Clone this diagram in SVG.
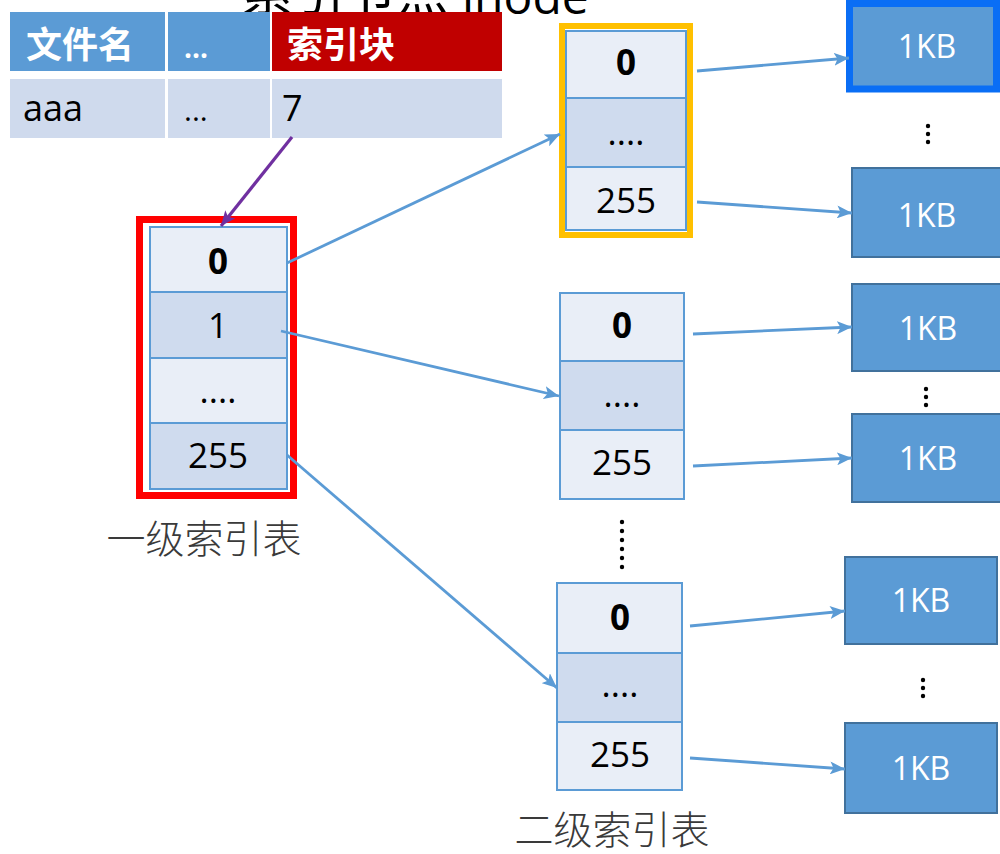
<svg xmlns="http://www.w3.org/2000/svg" width="1000" height="854" viewBox="0 0 1000 854">
<defs>
<marker id="ab" markerUnits="userSpaceOnUse" markerWidth="16" markerHeight="13" refX="15" refY="6.5" orient="auto">
<path d="M0,0 L15,6.5 L0,13 L3.5,6.5 Z" fill="#5B9BD5"/>
</marker>
<marker id="ap" markerUnits="userSpaceOnUse" markerWidth="16" markerHeight="13" refX="15" refY="6.5" orient="auto">
<path d="M0,0 L15,6.5 L0,13 L3.5,6.5 Z" fill="#7030A0"/>
</marker>
</defs>
<style>
.t{font-family:"Open Sans","Noto Sans CJK SC",sans-serif;fill:#000}
.num{font-size:35px;text-anchor:middle}
.b{font-weight:bold}
.lt{fill:#E9EEF7;stroke:#5B9BD5;stroke-width:2}
.dk{fill:#CFDBEE;stroke:#5B9BD5;stroke-width:2}
.kb{fill:#5B9BD5;stroke:#41719C;stroke-width:2}
.kbt{font-family:"Open Sans",sans-serif;font-size:32px;fill:#fff;text-anchor:middle}
.cjk{font-family:"Noto Sans CJK SC",sans-serif}
.lbl{font-family:"Noto Sans CJK SC",sans-serif;font-size:39px;font-weight:300;fill:#3a3a3a;text-anchor:middle}
.con{fill:none;stroke:#5B9BD5;stroke-width:2.8}
.dot{fill:#000}
</style>
<rect width="1000" height="854" fill="#fff"/>

<text x="241" y="11" fill="#000"><tspan font-family="Noto Sans CJK SC, sans-serif" font-size="52">索引节点</tspan><tspan x="462" y="14" font-family="Open Sans, sans-serif" font-size="48">inode</tspan></text>

<g id="filetable">
<rect x="10" y="12" width="155" height="59" fill="#5B9BD5"/>
<rect x="168" y="12" width="102" height="59" fill="#5B9BD5"/>
<rect x="272" y="12" width="230" height="59" fill="#C00000"/>
<rect x="10" y="79" width="155" height="59" fill="#CFDAED"/>
<rect x="168" y="79" width="102" height="59" fill="#CFDAED"/>
<rect x="272" y="79" width="230" height="59" fill="#CFDAED"/>
<text class="cjk" x="26" y="58" font-size="36" fill="#fff" font-weight="bold">文件名</text>
<text class="t b" x="184" y="58" font-size="28" style="fill:#fff">...</text>
<text class="cjk" x="287" y="58" font-size="36" fill="#fff" font-weight="bold">索引块</text>
<text class="t" x="23" y="121" font-size="36">aaa</text>
<text class="t" x="184" y="121" font-size="30">...</text>
<text class="t" x="282" y="121" font-size="36">7</text>
</g>

<g id="level1">
<rect x="139.5" y="219.5" width="154" height="276" fill="none" stroke="#FF0000" stroke-width="7"/>
<rect class="lt" x="150" y="227" width="137" height="65"/>
<rect class="dk" x="150" y="292" width="137" height="66"/>
<rect class="lt" x="150" y="358" width="137" height="65"/>
<rect class="dk" x="150" y="423" width="137" height="66"/>
<text class="t num b" x="218" y="274">0</text>
<text class="t num" x="218" y="338">1</text>
<text class="t num" x="218" y="403">....</text>
<text class="t num" x="218" y="468">255</text>
<text class="lbl" x="204" y="553">一级索引表</text>
</g>

<g id="level2a">
<rect x="562" y="26" width="128" height="209" fill="none" stroke="#FFC000" stroke-width="6"/>
<rect class="lt" x="566" y="31" width="120" height="67"/>
<rect class="dk" x="566" y="98" width="120" height="69"/>
<rect class="lt" x="566" y="167" width="120" height="63"/>
<text class="t num b" x="626" y="75">0</text>
<text class="t num" x="626" y="145">....</text>
<text class="t num" x="626" y="213">255</text>
</g>

<g id="level2b">
<rect class="lt" x="560" y="293" width="124" height="68"/>
<rect class="dk" x="560" y="361" width="124" height="69"/>
<rect class="lt" x="560" y="430" width="124" height="69"/>
<text class="t num b" x="622" y="338">0</text>
<text class="t num" x="622" y="407">....</text>
<text class="t num" x="622" y="475">255</text>
</g>

<g id="vdots">
<circle class="dot" cx="622" cy="522" r="2.2"/>
<circle class="dot" cx="622" cy="531" r="2.2"/>
<circle class="dot" cx="622" cy="540" r="2.2"/>
<circle class="dot" cx="622" cy="549" r="2.2"/>
<circle class="dot" cx="622" cy="558" r="2.2"/>
<circle class="dot" cx="622" cy="567" r="2.2"/>
</g>

<g id="level2c">
<rect class="lt" x="557" y="583" width="125" height="70"/>
<rect class="dk" x="557" y="653" width="125" height="69"/>
<rect class="lt" x="557" y="722" width="125" height="68"/>
<text class="t num b" x="620" y="630">0</text>
<text class="t num" x="620" y="697">....</text>
<text class="t num" x="620" y="767">255</text>
<text class="lbl" x="612" y="844">二级索引表</text>
</g>

<g id="block1">
<rect x="849.5" y="3.5" width="147" height="85.5" fill="#5B9BD5" stroke="#0A6EF5" stroke-width="7"/>
<text class="kbt" x="927" y="58">1KB</text>
</g>
<g id="dots1">
<circle class="dot" cx="928" cy="126" r="2.2"/>
<circle class="dot" cx="928" cy="134" r="2.2"/>
<circle class="dot" cx="928" cy="142" r="2.2"/>
</g>
<g id="block2">
<rect class="kb" x="852" y="168" width="150" height="89"/>
<text class="kbt" x="927" y="227">1KB</text>
</g>
<g id="block3">
<rect class="kb" x="852" y="284" width="150" height="87"/>
<text class="kbt" x="928" y="340">1KB</text>
</g>
<g id="dots2">
<circle class="dot" cx="926" cy="389" r="2.2"/>
<circle class="dot" cx="926" cy="397" r="2.2"/>
<circle class="dot" cx="926" cy="405" r="2.2"/>
</g>
<g id="block4">
<rect class="kb" x="852" y="414" width="150" height="88"/>
<text class="kbt" x="928" y="470">1KB</text>
</g>
<g id="block5">
<rect class="kb" x="845" y="557" width="152" height="87"/>
<text class="kbt" x="921" y="612">1KB</text>
</g>
<g id="dots3">
<circle class="dot" cx="923" cy="680" r="2.2"/>
<circle class="dot" cx="923" cy="688" r="2.2"/>
<circle class="dot" cx="923" cy="696" r="2.2"/>
</g>
<g id="block6">
<rect class="kb" x="845" y="723" width="152" height="90"/>
<text class="kbt" x="921" y="780">1KB</text>
</g>

<g id="connectors">
<line x1="292" y1="137" x2="221" y2="226" stroke="#7030A0" stroke-width="3.2" marker-end="url(#ap)"/>
<line class="con" x1="287" y1="263" x2="560" y2="134" marker-end="url(#ab)"/>
<line class="con" x1="281" y1="331" x2="559" y2="396" marker-end="url(#ab)"/>
<line class="con" x1="287" y1="455" x2="557" y2="688" marker-end="url(#ab)"/>
<line class="con" x1="697" y1="71" x2="849" y2="58" marker-end="url(#ab)"/>
<line class="con" x1="697" y1="202" x2="852" y2="213" marker-end="url(#ab)"/>
<line class="con" x1="693" y1="334" x2="852" y2="327" marker-end="url(#ab)"/>
<line class="con" x1="693" y1="466" x2="852" y2="458" marker-end="url(#ab)"/>
<line class="con" x1="690" y1="626" x2="845" y2="611" marker-end="url(#ab)"/>
<line class="con" x1="690" y1="758" x2="845" y2="769" marker-end="url(#ab)"/>
</g>
</svg>
